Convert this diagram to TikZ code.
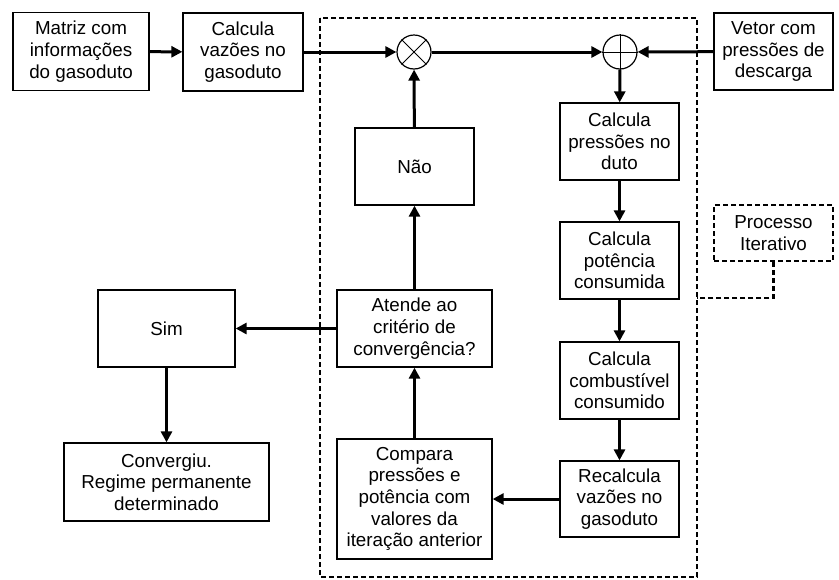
\documentclass[tikz,border=0pt]{standalone}
\usepackage{fontspec}
\setmainfont{Liberation Sans}
\usetikzlibrary{arrows.meta}
\begin{document}
\begin{tikzpicture}[x=1pt,y=-1pt,
  box/.style={draw,line width=1.3pt,align=center,inner sep=2pt,
    font=\fontsize{18.8}{21.7}\selectfont},
  arr/.style={line width=3pt,-{Triangle[length=11pt,width=11pt]}},
  dsh/.style={draw,line width=2.2pt,dash pattern=on 5pt off 3pt},
  junc/.style={draw,circle,line width=1.2pt,minimum size=34pt,inner sep=0pt}]
\useasboundingbox (0,0) rectangle (839,579);
% dashed region
\draw[dsh] (320,18) rectangle (697,577);
\coordinate (dr) at (697,298);
% nodes
\node[box,minimum width=136pt,minimum height=78pt] (matriz) at (81,51.5) {Matriz com\\informações\\do gasoduto};
\node[box,minimum width=120pt,minimum height=78pt] (calcvaz) at (243,52) {Calcula\\vazões no\\gasoduto};
\node[junc] (cross) at (414,52) {};
\draw[line width=1pt] (cross.north east) -- (cross.south west) (cross.north west) -- (cross.south east);
\node[junc] (plus) at (620,52) {};
\draw[line width=1pt] (plus.north) -- (plus.south) (plus.west) -- (plus.east);
\node[box,minimum width=119pt,minimum height=77pt] (vetor) at (773.5,51.5) {Vetor com\\pressões de\\descarga};
\node[box,minimum width=119pt,minimum height=77pt] (pres) at (619.5,141.5) {Calcula\\pressões no\\duto};
\node[box,minimum width=119pt,minimum height=77pt] (pot) at (619.5,260.5) {Calcula\\potência\\consumida};
\node[box,minimum width=119pt,minimum height=77pt] (comb) at (619.5,380.5) {Calcula\\combustível\\consumido};
\node[box,minimum width=119pt,minimum height=76pt] (recalc) at (619.5,499) {Recalcula\\vazões no\\gasoduto};
\node[box,minimum width=119pt,minimum height=77pt] (nao) at (414.5,166.5) {Não};
\node[box,minimum width=155pt,minimum height=77pt] (atende) at (414.5,328.5) {Atende ao\\critério de\\convergência?};
\node[box,minimum width=137pt,minimum height=77pt] (sim) at (166.5,328.5) {Sim};
\node[box,minimum width=205pt,minimum height=78pt] (conv) at (166.5,482) {Convergiu.\\Regime permanente\\determinado};
\node[box,minimum width=155pt,minimum height=120pt] (compara) at (414.5,499) {Compara\\pressões e\\potência com\\valores da\\iteração anterior};
\node[box,dsh,minimum width=119pt,minimum height=56pt] (proc) at (773.5,233) {Processo\\Iterativo};
% connectors
\draw[arr] (matriz) -- (calcvaz);
\draw[arr] (calcvaz) -- (cross);
\draw[arr] (cross) -- (plus);
\draw[arr] (vetor) -- (plus);
\draw[arr] (plus) -- (pres);
\draw[arr] (pres) -- (pot);
\draw[arr] (pot) -- (comb);
\draw[arr] (comb) -- (recalc);
\draw[arr] (recalc) -- (compara);
\draw[arr] (compara) -- (atende);
\draw[arr] (atende) -- (nao);
\draw[arr] (nao) -- (cross);
\draw[arr] (atende) -- (sim);
\draw[arr] (sim) -- (conv);
\draw[dsh] (proc.south) |- (dr);
\end{tikzpicture}
\end{document}
